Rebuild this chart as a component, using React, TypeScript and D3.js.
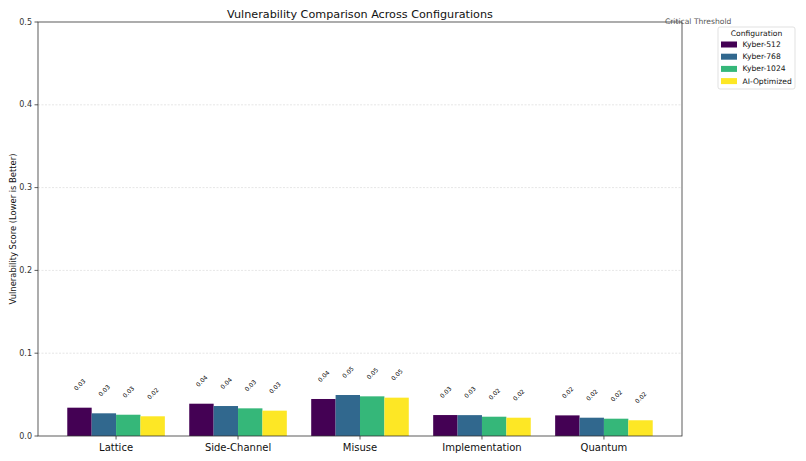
import React, { useEffect, useRef } from 'react';
import * as d3 from 'd3';

const categories = ['Lattice', 'Side-Channel', 'Misuse', 'Implementation', 'Quantum'];
const configs = ['Kyber-512', 'Kyber-768', 'Kyber-1024', 'AI-Optimized'];
const configColors = ['#440154', '#31688e', '#35b779', '#fde725'];

// scores per configuration, in category order
const kyber512 = [0.0342, 0.039, 0.0447, 0.0253, 0.0249];
const kyber768 = [0.0274, 0.0362, 0.0495, 0.0252, 0.0221];
const kyber1024 = [0.0257, 0.0334, 0.0479, 0.0233, 0.0209];
const aiOptimized = [0.0238, 0.0306, 0.0463, 0.0221, 0.019];

const yTicks = [0, 0.1, 0.2, 0.3, 0.4, 0.5];

const W = 806;
const H = 461;

const App: React.FC = () => {
  const svgRef = useRef<SVGSVGElement>(null);

  useEffect(() => {
    if (!svgRef.current) return;
    const svg = d3.select(svgRef.current);
    svg.selectAll('*').remove();

    const font = "'DejaVu Sans', sans-serif";
    const margin = { top: 22, right: 124, bottom: 25, left: 38 };
    const x0 = margin.left;
    const x1 = W - margin.right;
    const y0 = H - margin.bottom;
    const y1 = margin.top;

    const series = [kyber512, kyber768, kyber1024, aiOptimized];
    const barW = 0.2;

    const x = d3.scaleLinear().domain([-0.64, 4.64]).range([x0, x1]);
    const y = d3.scaleLinear().domain([0, 0.5]).range([y0, y1]);

    svg.append('rect').attr('width', W).attr('height', H).attr('fill', '#ffffff');

    // Grid
    svg.append('g')
      .selectAll('line')
      .data(yTicks.slice(1, -1))
      .enter().append('line')
      .attr('x1', x0).attr('x2', x1)
      .attr('y1', d => y(d)).attr('y2', d => y(d))
      .attr('stroke', '#b0b0b0')
      .attr('stroke-opacity', 0.4)
      .attr('stroke-width', 0.8)
      .attr('stroke-dasharray', '2,1.5');

    // Bars
    series.forEach((vals, si) => {
      const offset = (si - 1.5) * barW;
      svg.append('g')
        .selectAll('rect')
        .data(vals)
        .enter().append('rect')
        .attr('x', (_, i) => x(i + offset - barW / 2))
        .attr('y', d => y(d))
        .attr('width', x(barW) - x(0))
        .attr('height', d => y0 - y(d))
        .attr('fill', configColors[si]);

      // value labels
      svg.append('g')
        .selectAll('text')
        .data(vals)
        .enter().append('text')
        .attr('transform', (d, i) => `translate(${x(i + offset)},${y(d + 0.02) - 6.5}) rotate(-45)`)
        .attr('text-anchor', 'middle')
        .attr('dominant-baseline', 'central')
        .attr('font-family', font)
        .attr('font-size', '6px')
        .attr('fill', '#000')
        .text(d => d.toFixed(2));
    });

    // Spines
    svg.append('rect')
      .attr('x', x0).attr('y', y1)
      .attr('width', x1 - x0).attr('height', y0 - y1)
      .attr('fill', 'none')
      .attr('stroke', '#333')
      .attr('stroke-width', 0.8);

    // Y ticks
    const yAxis = svg.append('g');
    yTicks.forEach(t => {
      yAxis.append('line')
        .attr('x1', x0 - 3.5).attr('x2', x0)
        .attr('y1', y(t)).attr('y2', y(t))
        .attr('stroke', '#333').attr('stroke-width', 0.8);
      yAxis.append('text')
        .attr('x', x0 - 6)
        .attr('y', y(t))
        .attr('text-anchor', 'end')
        .attr('dominant-baseline', 'central')
        .attr('font-family', font)
        .attr('font-size', '8px')
        .attr('fill', '#333')
        .text(t.toFixed(1));
    });

    // X ticks
    const xAxis = svg.append('g');
    categories.forEach((c, i) => {
      xAxis.append('line')
        .attr('x1', x(i)).attr('x2', x(i))
        .attr('y1', y0).attr('y2', y0 + 3.5)
        .attr('stroke', '#333').attr('stroke-width', 0.8);
      xAxis.append('text')
        .attr('x', x(i))
        .attr('y', y0 + 14.5)
        .attr('text-anchor', 'middle')
        .attr('font-family', font)
        .attr('font-size', '10px')
        .attr('fill', '#111')
        .text(c);
    });

    // Y label
    svg.append('text')
      .attr('transform', `translate(12.5,${(y0 + y1) / 2}) rotate(-90)`)
      .attr('text-anchor', 'middle')
      .attr('dominant-baseline', 'central')
      .attr('font-family', font)
      .attr('font-size', '8.4px')
      .attr('fill', '#111')
      .text('Vulnerability Score (Lower is Better)');

    // Title
    svg.append('text')
      .attr('x', (x0 + x1) / 2)
      .attr('y', 14)
      .attr('text-anchor', 'middle')
      .attr('dominant-baseline', 'central')
      .attr('font-family', font)
      .attr('font-size', '11.2px')
      .attr('fill', '#111')
      .text('Vulnerability Comparison Across Configurations');

    // Critical threshold note
    svg.append('text')
      .attr('x', x(4.5))
      .attr('y', y(0.5) - 1)
      .attr('dominant-baseline', 'central')
      .attr('font-family', font)
      .attr('font-size', '7.6px')
      .attr('fill', '#555')
      .text('Critical Threshold');

    // Legend
    const lg = svg.append('g').attr('transform', 'translate(718,27)');
    lg.append('rect')
      .attr('width', 77).attr('height', 62)
      .attr('rx', 2)
      .attr('fill', '#fff')
      .attr('stroke', '#d9d9d9')
      .attr('stroke-width', 0.8);
    lg.append('text')
      .attr('x', 38.5).attr('y', 6.5)
      .attr('text-anchor', 'middle')
      .attr('dominant-baseline', 'central')
      .attr('font-family', font)
      .attr('font-size', '7.6px')
      .attr('fill', '#111')
      .text('Configuration');
    configs.forEach((c, i) => {
      const cy = 17.5 + i * 12.2;
      lg.append('rect')
        .attr('x', 3).attr('y', cy - 3)
        .attr('width', 16).attr('height', 6)
        .attr('fill', configColors[i]);
      lg.append('text')
        .attr('x', 24.5).attr('y', cy)
        .attr('dominant-baseline', 'central')
        .attr('font-family', font)
        .attr('font-size', '7.6px')
        .attr('fill', '#111')
        .text(c);
    });
  }, []);

  return (
    <div style={{ position: 'absolute', left: 0, top: 0 }}>
      <svg ref={svgRef} width={W} height={H} viewBox={`0 0 ${W} ${H}`} style={{ display: 'block' }} />
    </div>
  );
};

export default App;
